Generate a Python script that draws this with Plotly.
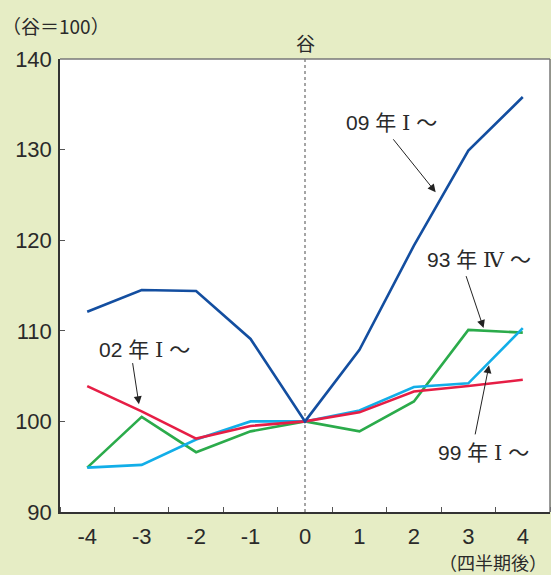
import plotly.graph_objects as go

quarters = [-4, -3, -2, -1, 0, 1, 2, 3, 4]
s09 = [112.1, 114.5, 114.4, 109.1, 100.0, 107.9, 119.4, 129.9, 135.8]
s93 = [94.9, 100.5, 96.6, 98.9, 100.0, 98.9, 102.2, 110.1, 109.8]
s99 = [94.9, 95.2, 98.0, 100.0, 100.0, 101.2, 103.8, 104.2, 110.3]
s02 = [103.9, 101.1, 98.1, 99.5, 100.0, 101.0, 103.3, 103.9, 104.6]

series = [
    ("93年Ⅳ～", s93, "#2bab4b"),
    ("99年Ⅰ～", s99, "#12aee8"),
    ("02年Ⅰ～", s02, "#e61e45"),
    ("09年Ⅰ～", s09, "#134ea0"),
]

FONT = "Liberation Sans, Noto Sans CJK JP, sans-serif"
CJK = "Noto Sans CJK JP"
SERIF = "DejaVu Serif, Liberation Serif, serif"
TXT = "#2a2a2a"

fig = go.Figure()
for name, ys, col in series:
    fig.add_trace(go.Scatter(x=quarters, y=ys, mode="lines", name=name,
                             line=dict(color=col, width=2.6), showlegend=False,
                             hoverinfo="skip"))

fig.update_layout(
    width=551, height=575,
    paper_bgcolor="#e6edc5", plot_bgcolor="white",
    margin=dict(l=60, r=1, t=59, b=63),
    font=dict(family=FONT, size=22, color=TXT),
    xaxis=dict(range=[-4.5, 4.5], tickvals=quarters, ticktext=[str(q) for q in quarters],
               showgrid=False, zeroline=False, showline=True, linecolor="#333", linewidth=1.5,
               ticks="", tickfont=dict(size=22, color=TXT), ticklabelstandoff=4,
               minor=dict(ticks="inside", tick0=-3.5, dtick=1, ticklen=5, tickcolor="#555", tickwidth=1)),
    yaxis=dict(range=[90, 140], tickvals=[90, 100, 110, 120, 130, 140],
               showgrid=False, zeroline=False, showline=True, linecolor="#333", linewidth=1.5,
               ticks="inside", ticklen=5, tickcolor="#555", tickfont=dict(size=22, color=TXT),
               ticklabelstandoff=2),
)

# grey top/right frame
fig.add_shape(type="line", xref="paper", yref="paper", x0=0, x1=1, y0=1, y1=1,
              line=dict(color="#777", width=1.5), layer="above")
fig.add_shape(type="line", xref="paper", yref="paper", x0=1, x1=1, y0=0, y1=1,
              line=dict(color="#777", width=1.5), layer="above")
# trough dashed line
fig.add_shape(type="line", xref="x", yref="paper", x0=0, x1=0, y0=0, y1=1,
              line=dict(color="#888", width=1.5, dash="dot"), layer="below")

fig.add_annotation(text="谷", xref="x", yref="paper", x=0, y=1.0, yshift=17,
                   xanchor="center", yanchor="middle",
                   showarrow=False, font=dict(size=19, color=TXT, family=CJK))
fig.add_annotation(text="（谷＝100）", xref="paper", yref="paper", x=-0.122, y=1.0, yshift=34,
                   xanchor="left", yanchor="middle", showarrow=False,
                   font=dict(size=19, color=TXT, family=CJK))
fig.add_annotation(text="（四半期後）", xref="paper", yref="paper", x=0.997, y=0, yshift=-50,
                   xanchor="right", yanchor="middle", showarrow=False,
                   font=dict(size=18, color=TXT, family=CJK))

def label(num, numeral, tx, ty, sx, sy, ex, ey):
    txt = (f"{num} <span style='font-family:{CJK}'>年</span> "
           f"<span style='font-family:{SERIF}'>{numeral}</span> "
           f"<span style='font-family:{CJK}'>～</span>")
    fig.add_annotation(text=txt, x=tx, y=ty, xref="x", yref="y", showarrow=False,
                       font=dict(size=21, color=TXT, family=FONT))
    fig.add_annotation(text="", x=ex, y=ey, xref="x", yref="y",
                       ax=sx, ay=sy, axref="x", ayref="y",
                       showarrow=True, arrowhead=2, arrowsize=1.6, arrowwidth=1, arrowcolor="#222",
                       standoff=0, startstandoff=0)

label("09", "Ⅰ", 1.58, 133.2, 1.60, 131.3, 2.40, 125.3)
label("93", "Ⅳ", 3.19, 118.0, 2.95, 116.2, 3.28, 110.3)
label("02", "Ⅰ", -2.95, 108.1, -3.17, 106.6, -3.05, 101.9)
label("99", "Ⅰ", 3.28, 96.7, 3.12, 98.4, 3.38, 106.2)

fig.write_html("out.html", config={"displayModeBar": False},
               post_script="document.body.style.margin='0';")
